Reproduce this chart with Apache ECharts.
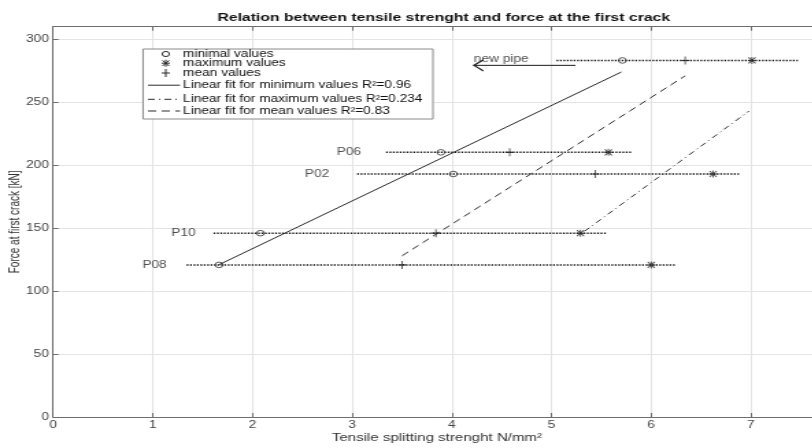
<!DOCTYPE html>
<html>
<head>
<meta charset="utf-8">
<script src="https://cdn.jsdelivr.net/npm/echarts@6/dist/echarts.min.js"></script>
<style>
  html, body { margin: 0; padding: 0; background: #fff; overflow: hidden; }
  /* the source figure is stretched sideways, so draw narrow and widen */
  #chart { width: 593px; height: 448px; transform: scaleX(1.37); transform-origin: 0 0; }
</style>
</head>
<body>
<div id="chart"></div>
<script>
// pipes and the force at the first crack [kN]
const pipes = ['P08', 'P10', 'P02', 'P06'];
const force = [120.8, 146.0, 193.0, 210.2];
const minVals = [1.665, 2.08, 4.015, 3.89];
const meanVals = [3.50, 3.84, 5.44, 4.58];
const maxVals = [6.00, 5.29, 6.62, 5.57];
const rangeStart = [1.34, 1.61, 3.05, 3.34];
const rangeEnd = [6.25, 5.56, 6.88, 5.81];
const labelX = [1.14, 1.43, 2.77, 3.09];

// new pipe
const newPipeForce = 283.2;
const newPipeMin = 5.71;
const newPipeMean = 6.34;
const newPipeMax = 7.01;
const newPipeRange = [5.05, 7.47];
const arrowX = [5.24, 4.22];
const arrowY = 279.3;
const newPipeLabel = [4.22, 283.8];

// linear fits (end points)
const minFitX = [1.665, 5.70];
const minFitY = [121, 274];
const maxFitX = [5.33, 6.98];
const maxFitY = [147.5, 243];
const meanFitX = [3.50, 6.34];
const meanFitY = [128, 271];

const xTicks = [0, 1, 2, 3, 4, 5, 6, 7];
const yTicks = [0, 50, 100, 150, 200, 250, 300];

const legendRows = [
  'minimal values',
  'maximum values',
  'mean values',
  'Linear fit for minimum values R\u00b2=0.96',
  'Linear fit for maximum values R\u00b2=0.234',
  'Linear fit for mean values R\u00b2=0.83'
];

(function() {
  const chart = echarts.init(document.getElementById('chart'));
  const ink = '#1a1a1a';
  const font = 'Liberation Sans, Arial, sans-serif';
  const plusPath = 'path://M4.3,0L5.7,0L5.7,10L4.3,10ZM0,4.3L10,4.3L10,5.7L0,5.7Z';
  const starPath = 'path://M4.3,0L5.7,0L5.7,10L4.3,10ZM0,4.3L10,4.3L10,5.7L0,5.7Z' +
    'M1.2,0.2L9.8,8.8L8.8,9.8L0.2,1.2ZM8.8,0.2L9.8,1.2L1.2,9.8L0.2,8.8Z';
  const dotted = { color: '#111', width: 1.5, type: [1.3, 1.2] };

  const allMin = minVals.concat(newPipeMin);
  const allMean = meanVals.concat(newPipeMean);
  const allMax = maxVals.concat(newPipeMax);
  const allForce = force.concat(newPipeForce);
  const allStart = rangeStart.concat(newPipeRange[0]);
  const allEnd = rangeEnd.concat(newPipeRange[1]);

  const pair = (xs, ys) => xs.map((x, i) => [x, ys[i]]);

  const rangeSeries = allForce.map((f, i) => ({
    type: 'line',
    data: [[allStart[i], f], [allEnd[i], f]],
    symbol: 'none',
    silent: true,
    lineStyle: dotted,
    z: 2
  }));

  const fitLine = (xs, ys, type) => ({
    type: 'line',
    data: pair(xs, ys),
    symbol: 'none',
    silent: true,
    lineStyle: { color: '#2b2b2b', width: 1, type: type },
    z: 3
  });

  const axisCommon = {
    axisLine: { show: true, lineStyle: { color: '#6e6e6e', width: 1 } },
    axisTick: { show: true, inside: true, length: 4, lineStyle: { color: '#6e6e6e' } },
    splitLine: { show: true, lineStyle: { color: '#e4e4e4', width: 1 } }
  };

  // legend drawn by hand, the rows are not evenly spaced
  const lx = 121, tx = 133.6;
  const rowY = [54, 63.2, 73, 85.2, 99.3, 111];
  const seg = (x1, y1, x2, y2, dash) => ({
    type: 'line', z: 101, silent: true,
    shape: { x1: x1, y1: y1, x2: x2, y2: y2 },
    style: { stroke: '#2b2b2b', lineWidth: 1, lineDash: dash || null }
  });
  const legendGraphic = [
    { type: 'rect', z: 100, silent: true, shape: { x: 104.4, y: 49, width: 211.6, height: 70 },
      style: { fill: '#fff', stroke: '#8a8a8a', lineWidth: 1 } },
    { type: 'circle', z: 101, silent: true, shape: { cx: lx, cy: rowY[0], r: 2.6 },
      style: { fill: 'none', stroke: ink, lineWidth: 0.9 } },
    // asterisk
    seg(lx - 3, rowY[1], lx + 3, rowY[1]),
    seg(lx, rowY[1] - 3.5, lx, rowY[1] + 3.5),
    seg(lx - 2.4, rowY[1] - 2.8, lx + 2.4, rowY[1] + 2.8),
    seg(lx - 2.4, rowY[1] + 2.8, lx + 2.4, rowY[1] - 2.8),
    // plus
    seg(lx - 3, rowY[2], lx + 3, rowY[2]),
    seg(lx, rowY[2] - 4, lx, rowY[2] + 4),
    seg(108, rowY[3], 131.4, rowY[3]),
    seg(108, rowY[4], 131.4, rowY[4], [5, 3, 1, 3]),
    seg(108, rowY[5], 131.4, rowY[5], [6, 4])
  ].concat(legendRows.map((t, i) => ({
    type: 'text', z: 101, silent: true, x: tx, y: rowY[i],
    style: { text: t, fontSize: 10, fontFamily: font, fill: '#111', verticalAlign: 'middle' }
  })));

  const option = {
    animation: false,
    backgroundColor: '#fff',
    title: {
      text: 'Relation between tensile strenght and force at the first crack',
      left: 318.9,
      textAlign: 'center',
      top: 7,
      textStyle: { fontSize: 11.5, fontWeight: 'bold', fontFamily: font, color: '#111' }
    },
    grid: { left: 38.7, top: 26.7, width: 560.4, height: 390.3, outerBoundsMode: 'none', containLabel: false },
    xAxis: [
      Object.assign({
        type: 'value', min: 0, max: 7.7, interval: 1, position: 'bottom',
        name: 'Tensile splitting strenght N/mm\u00b2',
        nameLocation: 'middle', nameGap: 15.5, nameMoveOverlap: false,
        nameTextStyle: { fontSize: 11, fontFamily: font, color: '#333' },
        axisLabel: {
          fontSize: 10, fontFamily: font, color: '#444', margin: 3,
          formatter: v => (xTicks.indexOf(v) >= 0 ? String(v) : '')
        }
      }, axisCommon),
      Object.assign({
        type: 'value', min: 0, max: 7.7, interval: 1, position: 'top',
        axisLabel: { show: false }
      }, axisCommon, { splitLine: { show: false } })
    ],
    yAxis: Object.assign({
      type: 'value', min: 0, max: 310, interval: 50,
      name: 'Force at first crack [kN]',
      nameLocation: 'middle', nameGap: 22, nameMoveOverlap: false,
      nameTextStyle: { fontSize: 10, fontFamily: font, color: '#333' },
      axisLabel: {
        fontSize: 10, fontFamily: font, color: '#444', margin: 3,
        formatter: v => (yTicks.indexOf(v) >= 0 ? String(v) : '')
      }
    }, axisCommon),
    graphic: legendGraphic,
    series: rangeSeries.concat([
      fitLine(minFitX, minFitY, 'solid'),
      fitLine(maxFitX, maxFitY, [5, 3, 1, 3]),
      fitLine(meanFitX, meanFitY, [6, 4]),
      {
        name: 'minimal values', type: 'scatter', data: pair(allMin, allForce),
        symbol: 'circle', symbolSize: [5.6, 5.6],
        itemStyle: { color: 'rgba(0,0,0,0)', borderColor: ink, borderWidth: 0.9 }, z: 5
      },
      {
        name: 'maximum values', type: 'scatter', data: pair(allMax, allForce),
        symbol: starPath, symbolSize: [6, 7],
        itemStyle: { color: ink }, z: 5
      },
      {
        name: 'mean values', type: 'scatter', data: pair(allMean, allForce),
        symbol: plusPath, symbolSize: [6, 8],
        itemStyle: { color: ink }, z: 5
      },
      {
        type: 'scatter', data: pair(labelX, force), symbolSize: 0, silent: true,
        label: {
          show: true, position: 'left', distance: 0,
          formatter: p => pipes[p.dataIndex],
          fontSize: 10, fontFamily: font, color: '#222'
        }
      },
      {
        type: 'scatter', data: [newPipeLabel], symbolSize: 0, silent: true,
        label: {
          show: true, position: 'right', distance: 0, formatter: 'new pipe',
          fontSize: 10, fontFamily: font, color: '#222'
        }
      },
      {
        type: 'line', silent: true,
        data: [
          { value: [arrowX[0], arrowY], symbol: 'none' },
          { value: [arrowX[1], arrowY], symbol: 'path://M10,0L0,5L10,10', symbolSize: [7, 11], symbolOffset: [3.5, 0] }
        ],
        lineStyle: { color: ink, width: 1 },
        itemStyle: { color: 'none', borderColor: ink, borderWidth: 1 },
        z: 4
      }
    ])
  };

  chart.setOption(option);
})();
</script>
</body>
</html>
